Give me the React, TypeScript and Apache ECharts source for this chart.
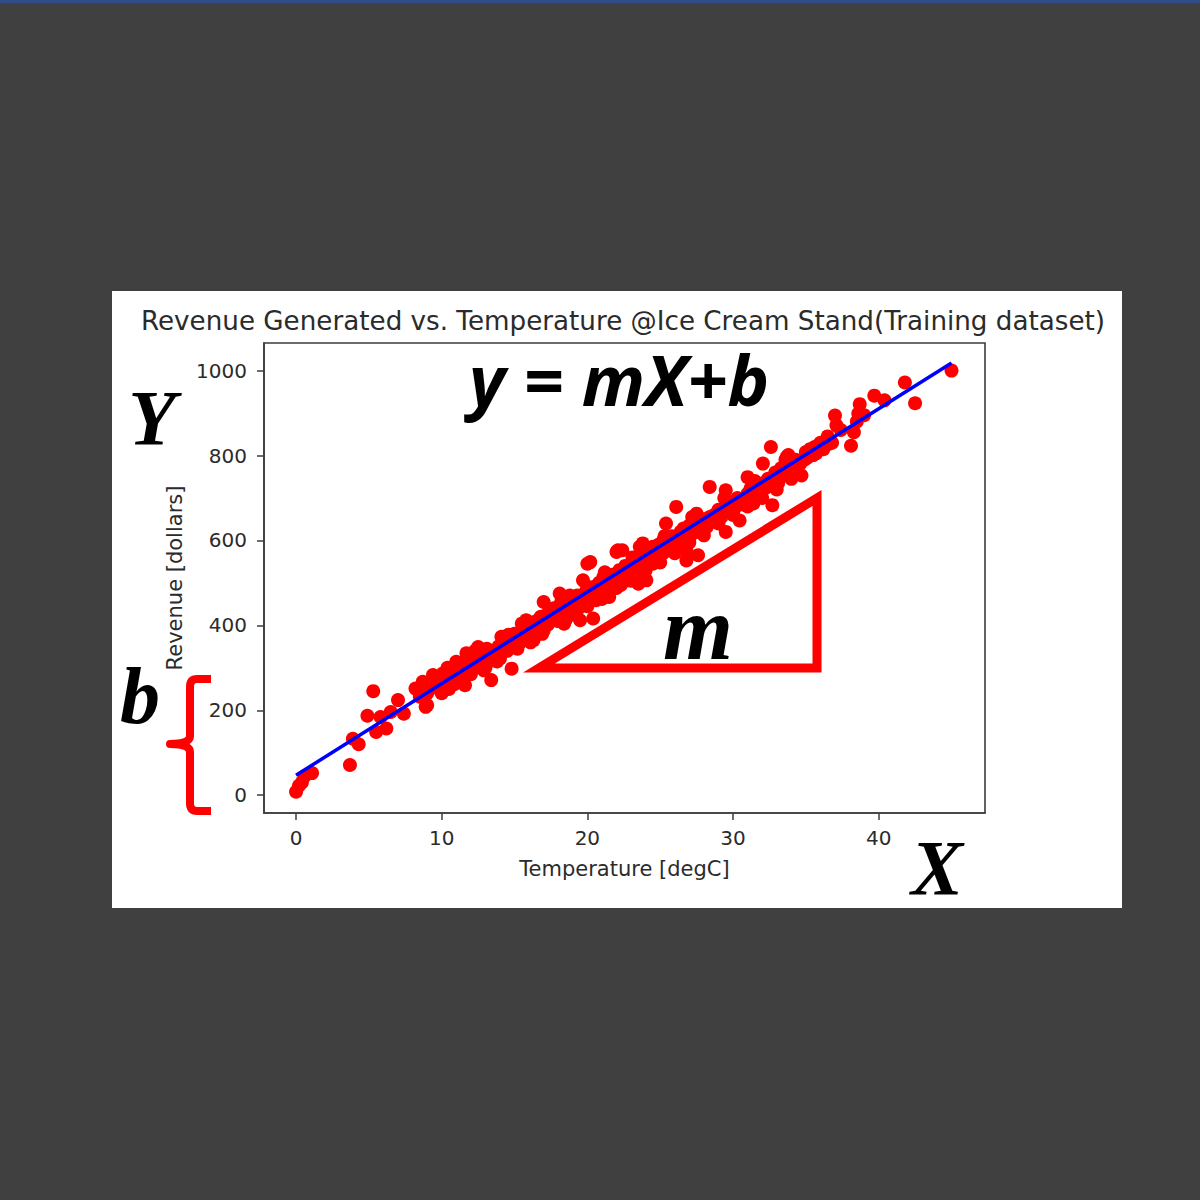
import React, { useEffect, useRef } from "react";
import * as echarts from "echarts";

// Scatter points (temperature in degC, revenue in dollars)
const temperature = [
  0.0, 0.2, 0.4, 1.1, 0.6, 3.7, 3.9, 4.3, 5.3, 4.9, 5.5, 6.2, 5.8, 6.5, 7.0, 7.4, 8.2, 9.0, 8.7, 9.4,
  10.1, 9.9, 11.0, 11.6, 11.7, 12.4, 8.9, 13.4, 14.8, 13.2, 11.2, 12.5, 14.1, 15.5, 12.9, 13.5,
  15.8, 15.5, 16.3, 17.0, 18.1, 17.4, 18.4, 19.5, 20.4, 19.7, 20.0, 20.6, 21.5, 21.1, 22.0, 22.7,
  23.5, 23.8, 23.4, 18.3, 16.5, 20.2, 22.1, 26.1, 26.8,
  27.6, 26.8, 28.4, 29.5, 29.5, 32.7, 32.6, 33.7, 34.7, 35.6, 31.0, 32.05, 23.1, 24.5, 25.2, 27.5,
  28.2, 30.45, 31.4, 31.8, 25.4, 26.6, 23.6, 22.4, 22.2, 24.05, 33.2,
  45.0, 41.8, 42.5, 39.7, 40.4, 38.7, 38.6, 37.0, 37.1, 38.3, 38.1, 36.6, 35.9, 35.0, 33.8, 33.4, 35.5,
  9.2, 9.6, 10.3, 10.7, 10.5, 11.3, 11.8, 12.1, 12.6, 12.9, 13.1, 13.6, 13.9, 14.3, 14.5, 14.7, 15.0,
  15.3, 15.7, 16.0, 16.2, 16.5, 16.8, 17.2, 17.5, 17.8, 18.0, 18.2, 18.6, 18.9, 19.1, 19.3, 19.6,
  19.9, 20.1, 20.3, 20.7, 20.9, 21.3, 21.6, 21.8, 22.1, 22.4, 22.6, 22.9, 23.2, 23.5, 23.7, 24.0,
  24.3, 24.6, 24.9, 25.1, 25.5, 25.8, 26.1, 26.4, 26.7, 27.0, 27.3, 27.7, 28.0, 28.3, 28.7, 29.0,
  29.3, 29.7, 30.0, 30.3, 30.6, 31.0, 31.3, 31.7, 32.1, 32.4, 32.9, 33.3, 33.8, 34.3, 34.9, 35.3,
  36.0, 36.5, 37.4, 38.5, 39.0,
  10.0, 11.0, 12.0, 13.0, 14.0, 15.2, 16.1, 17.0, 18.0, 19.0, 20.0, 21.0, 22.0, 23.0, 24.0, 25.0,
  26.0, 27.0, 28.0, 29.0, 30.0, 31.0, 32.0, 33.0, 34.0,
  12.3, 14.6, 16.8, 18.8, 21.2, 23.1, 25.3, 27.2, 29.4, 31.5, 33.6,
  8.5, 9.0, 9.8, 10.4, 10.9, 11.4, 11.9, 12.2, 12.7, 13.3, 13.8, 14.2, 14.9, 15.4, 15.9, 16.4,
  16.9, 17.3, 17.7, 18.2, 18.5, 19.0, 19.4, 19.8, 20.2, 20.5, 20.8, 21.1, 21.5, 21.9, 22.3, 22.7,
  23.0, 23.3, 23.8, 24.2, 24.5, 24.8, 25.2, 25.6, 26.0, 26.3, 26.8, 27.1, 27.5, 27.9, 28.4, 28.8,
  29.2, 29.6, 30.1, 30.5, 30.9, 31.2, 31.6, 32.0, 32.3, 32.8, 33.1, 33.5, 34.1, 34.6, 35.1, 35.7,
  36.2, 36.8,
];
const revenue = [
  8, 22, 30, 52, 45, 71, 133, 120, 245, 187, 149, 157, 184, 196, 224, 192, 251, 212, 267, 283,
  287, 255, 314, 259, 334, 341, 208, 271, 298, 318, 310, 349, 373, 404, 294, 318,
  412, 377, 365, 455, 475, 420, 404, 412, 416, 506, 545, 459, 467, 514, 573, 506,
  498, 593, 553, 443, 404, 549, 577, 679, 553,
  565, 577, 726, 718, 620, 683, 820, 797, 753, 820, 749, 781, 514, 545, 600, 663,
  632, 647, 687, 718, 640, 628, 585, 577, 530, 506, 749,
  1000, 972, 923, 941, 930, 921, 899, 894, 871, 855, 823, 828, 824, 808, 801, 753, 801,
  250, 262, 268, 285, 250, 290, 300, 312, 318, 330, 345, 335, 350, 355, 340, 362, 380,
  370, 388, 398, 385, 410, 402, 425, 430, 415, 440, 455, 448, 430, 462, 470, 455,
  480, 472, 490, 495, 480, 505, 498, 520, 510, 525, 540, 530, 545, 560, 548, 565,
  575, 568, 590, 580, 598, 610, 600, 620, 612, 635, 628, 645, 650, 640, 660, 672,
  665, 680, 690, 700, 685, 710, 705, 725, 735, 745, 760, 770, 780, 790, 790, 815,
  830, 845, 860, 880, 895,
  240, 275, 285, 300, 322, 345, 360, 388, 410, 425, 445, 462, 488, 505, 530, 548,
  570, 595, 612, 640, 660, 680, 700, 720, 745,
  340, 378, 420, 470, 525, 560, 610, 655, 700, 740, 790,
  232, 240, 270, 300, 262, 282, 325, 298, 305, 330, 315, 338, 365, 360, 372, 395,
  380, 402, 440, 425, 412, 445, 440, 462, 460, 475, 500, 488, 480, 500, 495, 518,
  520, 535, 528, 548, 585, 560, 570, 580, 590, 605, 598, 612, 620, 635, 655, 645,
  655, 690, 675, 690, 695, 722, 700, 718, 725, 738, 735, 760, 770, 780, 795, 805,
  815, 830,
];

// Fitted regression line end points
const fitX = [0, 45];
const fitY = [47, 1018];

// Tick values
const xTicks = [0, 10, 20, 30, 40];
const yTicks = [0, 200, 400, 600, 800, 1000];

const braceD =
  "M 211 679 L 197 679 Q 190 679 190 687 L 190 736 Q 190 744 170 744 Q 190 744 190 752 L 190 803 Q 190 811 197 811 L 211 811";

let registered = false;

export default function App() {
  const ref = useRef<HTMLDivElement>(null);

  useEffect(() => {
    if (!ref.current) return;
    if (!registered) {
      echarts.graphic.registerShape("brace", echarts.graphic.extendPath(braceD, {}));
      registered = true;
    }
    const chart = echarts.init(ref.current, null, { renderer: "svg" });
    const points = temperature.map((t, i) => [t, revenue[i]]);
    const line = fitX.map((x, i) => [x, fitY[i]]);
    const textColor = "#2b2b2b";
    const axisColor = "#3c3c3c";

    chart.setOption({
      animation: false,
      backgroundColor: "#404040",
      textStyle: { fontFamily: "DejaVu Sans" },
      grid: {
        left: 264,
        top: 343,
        right: 215,
        bottom: 387,
        show: true,
        borderColor: axisColor,
        borderWidth: 1.6,
        backgroundColor: "transparent",
      },
      xAxis: {
        type: "value",
        min: -2.2,
        max: 47.3,
        name: "Temperature [degC]",
        nameLocation: "middle",
        nameGap: 45,
        nameTextStyle: { fontSize: 21, color: textColor, fontFamily: "DejaVu Sans" },
        axisLine: { show: true, onZero: false, lineStyle: { color: axisColor, width: 1.6 } },
        axisTick: { show: true, length: 7, customValues: xTicks, lineStyle: { color: axisColor, width: 1.5 } },
        axisLabel: {
          customValues: xTicks,
          fontSize: 20,
          color: textColor,
          margin: 15,
          fontFamily: "DejaVu Sans",
          formatter: (v: number) => String(v),
        },
        splitLine: { show: false },
      },
      yAxis: {
        type: "value",
        min: -42,
        max: 1065,
        name: "Revenue [dollars]",
        nameLocation: "middle",
        nameGap: 74,
        nameTextStyle: { fontSize: 21, color: textColor, fontFamily: "DejaVu Sans" },
        axisLine: { show: true, onZero: false, lineStyle: { color: axisColor, width: 1.6 } },
        axisTick: { show: true, length: 7, customValues: yTicks, lineStyle: { color: axisColor, width: 1.5 } },
        axisLabel: {
          customValues: yTicks,
          fontSize: 20,
          color: textColor,
          margin: 17,
          fontFamily: "DejaVu Sans",
          formatter: (v: number) => String(v),
        },
        splitLine: { show: false },
      },
      series: [
        {
          type: "scatter",
          data: points,
          symbol: "circle",
          symbolSize: 14,
          itemStyle: { color: "#ff0000", opacity: 1 },
          z: 2,
        },
        {
          type: "line",
          data: line,
          symbol: "none",
          lineStyle: { color: "#0000ff", width: 3.5 },
          z: 3,
        },
      ],
      graphic: [
        { type: "rect", z: -10, shape: { x: 0, y: 0, width: 1200, height: 3 }, style: { fill: "#2f4d86" } },
        { type: "rect", z: -10, shape: { x: 112, y: 291, width: 1010, height: 617 }, style: { fill: "#ffffff" } },
        {
          type: "text",
          z: 50,
          x: 623,
          y: 321,
          style: {
            text: "Revenue Generated vs. Temperature @Ice Cream Stand(Training dataset)",
            fontFamily: "DejaVu Sans",
            fontSize: 26.2,
            fill: textColor,
            align: "center",
            verticalAlign: "middle",
          },
        },
        {
          type: "text",
          z: 100,
          x: 619,
          y: 379,
          style: {
            text: "y = mX+b",
            fontFamily: "Open Sans",
            fontWeight: "bold",
            fontStyle: "italic",
            fontSize: 70,
            fill: "#000000",
            align: "center",
            verticalAlign: "middle",
          },
        },
        {
          type: "text",
          z: 100,
          x: 152,
          y: 417,
          style: {
            text: "Y",
            fontFamily: "Liberation Serif",
            fontWeight: "bold",
            fontStyle: "italic",
            fontSize: 78,
            fill: "#000000",
            align: "center",
            verticalAlign: "middle",
          },
        },
        {
          type: "text",
          z: 100,
          x: 140,
          y: 696,
          style: {
            text: "b",
            fontFamily: "Liberation Serif",
            fontWeight: "bold",
            fontStyle: "italic",
            fontSize: 80,
            fill: "#000000",
            align: "center",
            verticalAlign: "middle",
          },
        },
        {
          type: "text",
          z: 100,
          x: 937,
          y: 867,
          style: {
            text: "X",
            fontFamily: "Liberation Serif",
            fontWeight: "bold",
            fontStyle: "italic",
            fontSize: 78,
            fill: "#000000",
            align: "center",
            verticalAlign: "middle",
          },
        },
        {
          type: "text",
          z: 100,
          x: 698,
          y: 628,
          style: {
            text: "m",
            fontFamily: "Liberation Serif",
            fontWeight: "bold",
            fontStyle: "italic",
            fontSize: 90,
            fill: "#000000",
            align: "center",
            verticalAlign: "middle",
          },
        },
        {
          type: "polygon",
          z: 100,
          shape: { points: [[539, 668], [817, 668], [817, 498]] },
          style: { fill: "none", stroke: "#ff0000", lineWidth: 9, lineJoin: "miter", miterLimit: 10 },
        },
        {
          type: "brace",
          z: 100,
          x: 0,
          y: 0,
          style: { fill: "none", stroke: "#ff0000", lineWidth: 8, lineJoin: "round", lineCap: "butt" },
        },
      ],
    });
    return () => chart.dispose();
  }, []);

  return (
    <div
      ref={ref}
      style={{ position: "absolute", left: 0, top: 0, width: 1200, height: 1200 }}
    />
  );
}
